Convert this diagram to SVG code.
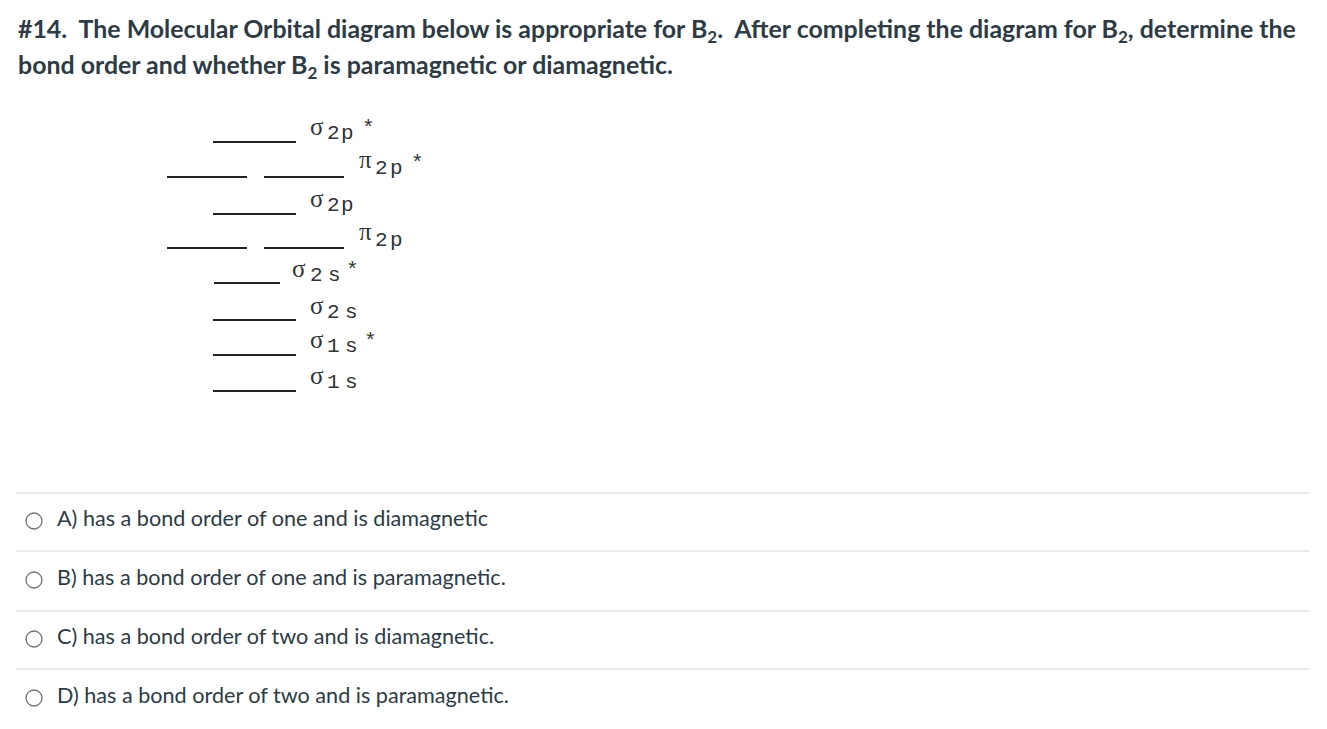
<svg xmlns="http://www.w3.org/2000/svg" width="1327" height="729" viewBox="0 0 1327 729">
<style>
.t{font-family:Lato,"Liberation Sans",sans-serif;fill:#2d3b45;white-space:pre}
.h{font-size:24.9px;font-weight:bold}
.o{font-size:21.6px}
.lv{stroke:#222;stroke-width:1.8}
.lb{font-family:"Liberation Mono","Courier New",monospace;font-size:21px;fill:#333}
.g{font-family:"Liberation Serif",serif;font-size:25px}
.sep{stroke:#e2e4e6;stroke-width:1.3}
.rd{fill:#fff;stroke:#707070;stroke-width:1.3}
</style>
<rect width="1327" height="729" fill="#fff"/>
<g id="title">
<text class="t h" x="18" y="38" xml:space="preserve">#14.  The Molecular Orbital diagram below is appropriate for B<tspan font-size="17" dy="5">2</tspan><tspan dy="-5">.  After completing the diagram for B</tspan><tspan font-size="17" dy="5">2</tspan><tspan dy="-5">, determine the</tspan></text>
<text class="t h" x="18" y="74" xml:space="preserve">bond order and whether B<tspan font-size="17" dy="5">2</tspan><tspan dy="-5"> is paramagnetic or diamagnetic.</tspan></text>
</g>
<g id="mo-diagram">
<g id="sigma2p-star"><line class="lv" x1="213" y1="142" x2="296" y2="142"/><text class="lb" y="139"><tspan class="g" x="310" y="135">σ</tspan><tspan x="327" y="139">2</tspan><tspan x="341">p</tspan><tspan x="362" y="134">*</tspan></text></g>
<g id="pi2p-star"><line class="lv" x1="167" y1="177" x2="247" y2="177"/><line class="lv" x1="264" y1="177" x2="344" y2="177"/><text class="lb" y="174"><tspan class="g" x="359" y="168">π</tspan><tspan x="375" y="174">2</tspan><tspan x="390">p</tspan><tspan x="411" y="169">*</tspan></text></g>
<g id="sigma2p"><line class="lv" x1="213" y1="214" x2="296" y2="214"/><text class="lb" y="211"><tspan class="g" x="310" y="207">σ</tspan><tspan x="327" y="211">2</tspan><tspan x="341">p</tspan></text></g>
<g id="pi2p"><line class="lv" x1="167" y1="248" x2="247" y2="248"/><line class="lv" x1="264" y1="248" x2="344" y2="248"/><text class="lb" y="246"><tspan class="g" x="359" y="240">π</tspan><tspan x="375" y="246">2</tspan><tspan x="390">p</tspan></text></g>
<g id="sigma2s-star"><line class="lv" x1="214" y1="283" x2="280" y2="283"/><text class="lb" y="281"><tspan class="g" x="292" y="277">σ</tspan><tspan x="310" y="281">2</tspan><tspan x="328">s</tspan><tspan x="346" y="276">*</tspan></text></g>
<g id="sigma2s"><line class="lv" x1="213" y1="320" x2="296" y2="320"/><text class="lb" y="318"><tspan class="g" x="310" y="314">σ</tspan><tspan x="327" y="318">2</tspan><tspan x="345">s</tspan></text></g>
<g id="sigma1s-star"><line class="lv" x1="213" y1="355" x2="296" y2="355"/><text class="lb" y="352"><tspan class="g" x="310" y="348">σ</tspan><tspan x="327" y="352">1</tspan><tspan x="345">s</tspan><tspan x="364" y="347">*</tspan></text></g>
<g id="sigma1s"><line class="lv" x1="213" y1="391" x2="296" y2="391"/><text class="lb" y="388"><tspan class="g" x="310" y="384">σ</tspan><tspan x="327" y="388">1</tspan><tspan x="345">s</tspan></text></g>
</g>
<g id="separators">
<line class="sep" x1="16" y1="493" x2="1309" y2="493"/>
<line class="sep" x1="16" y1="551" x2="1309" y2="551"/>
<line class="sep" x1="16" y1="611" x2="1309" y2="611"/>
<line class="sep" x1="16" y1="669" x2="1309" y2="669"/>
</g>
<g id="optA"><circle class="rd" cx="34" cy="521" r="8"/><text class="t o" x="57" y="526">A) has a bond order of one and is diamagnetic</text></g>
<g id="optB"><circle class="rd" cx="34" cy="580" r="8"/><text class="t o" x="57" y="585">B) has a bond order of one and is paramagnetic.</text></g>
<g id="optC"><circle class="rd" cx="34" cy="639" r="8"/><text class="t o" x="57" y="644">C) has a bond order of two and is diamagnetic.</text></g>
<g id="optD"><circle class="rd" cx="34" cy="698" r="8"/><text class="t o" x="57" y="703">D) has a bond order of two and is paramagnetic.</text></g>
</svg>
